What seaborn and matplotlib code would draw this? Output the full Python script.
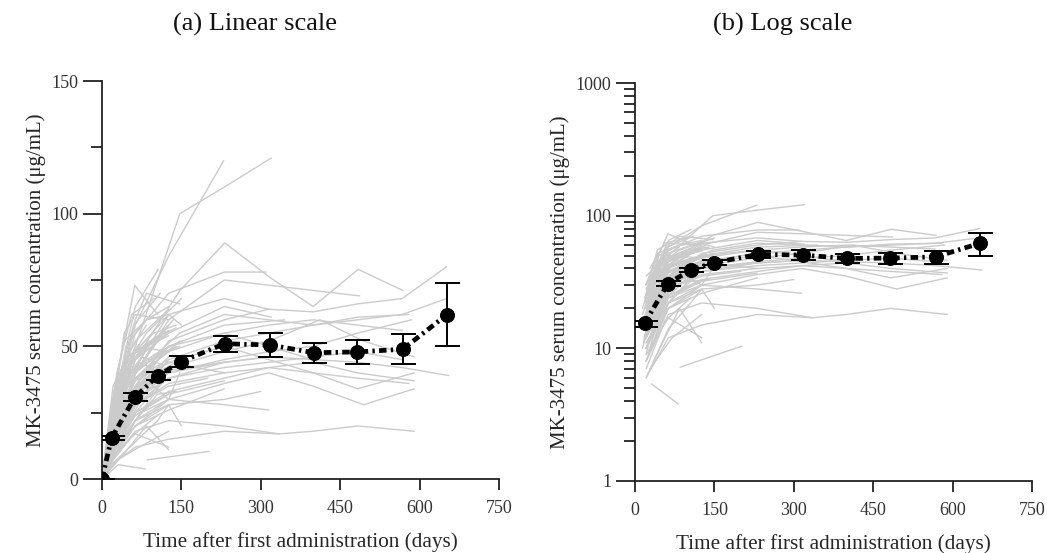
import numpy as np
import pandas as pd
import matplotlib
matplotlib.use("Agg")
import matplotlib.pyplot as plt
import matplotlib.ticker as mticker
import seaborn as sns

# ---------------- data ----------------
# individual subject profiles (days, concentration ug/mL)
subj_days = [
    [0, 21, 63, 147, 231, 320],
    [0, 21, 63, 126, 230],
    [0, 21, 63, 147, 232, 317, 399, 484, 569],
    [0, 21, 63, 126, 231, 317, 487],
    [0, 21, 63, 126, 231, 315, 399, 483, 567, 651],
    [0, 21, 63, 126, 231, 315, 399, 483, 567, 651],
    [0, 21, 63, 126, 231, 315, 399, 483, 567, 655],
    [0, 21, 63, 126, 231, 335, 399, 483, 590],
    [0, 21, 63, 147, 231, 315, 399, 483, 580],
    [0, 21, 63, 126, 231, 315, 399, 483, 585],
    [0, 21, 63, 126, 231, 315, 412, 494, 590],
    [0, 21, 63, 126, 231, 315, 399, 483, 590],
    [0, 21, 63, 126, 231, 315, 399, 494, 590],
    [0, 21, 63, 126, 231, 315, 399, 483, 590],
    [0, 21, 63, 126, 231, 315, 399, 483, 580],
    [0, 21, 63, 126, 231, 320],
    [0, 21, 63, 126, 231, 345],
    [0, 21, 63, 126, 231, 335],
    [0, 21, 63, 126, 231, 315],
    [0, 21, 63, 126, 231, 315, 399],
    [0, 21, 63, 126, 231, 315, 399, 483, 567],
    [0, 21, 63, 126, 231, 315],
    [0, 21, 63, 126, 231, 310],
    [0, 21, 63, 126, 231, 315, 399, 483, 567],
    [0, 20, 62, 105],
    [0, 22, 63, 106],
    [0, 21, 45, 84, 126],
    [0, 21, 42, 84, 150],
    [0, 21, 63, 126],
    [0, 20, 63, 126],
    [0, 28, 63, 105, 147],
    [0, 21, 63, 126],
    [0, 21, 42, 84, 126],
    [0, 14, 42, 84, 126],
    [0, 21, 63, 105],
    [0, 21, 63, 126, 147],
    [0, 31, 82],
    [85, 202],
    [0, 21, 63, 105, 126],
    [0, 28, 70, 126],
    [0, 21, 63, 126],
    [0, 21, 63, 105, 126],
    [0, 21, 42, 63, 126],
    [0, 21, 63, 126, 150],
    [0, 21, 63, 126],
    [0, 21, 63, 126, 200],
    [0, 21, 63, 126],
    [0, 21, 63, 126, 231],
    [0, 21, 63, 126],
    [0, 21, 63, 84, 147],
    [0, 35, 84, 126],
    [0, 21, 63, 126, 231],
    [0, 21, 63, 126, 231],
    [0, 21, 63, 126, 231],
    [0, 18, 42, 84, 126],
    [0, 24, 56, 105, 147],
    [0, 21, 49, 91, 140],
    [0, 25, 63, 112],
    [0, 14, 42, 84],
    [0, 28, 56, 98],
    [0, 21, 49, 77, 119],
    [0, 17, 45, 87, 129],
    [0, 24, 52, 94],
    [0, 21, 63, 126],
    [0, 26, 56, 112, 140],
    [0, 14, 35, 70, 105],
    [0, 21, 42, 70, 112],
    [0, 30, 60, 90, 130],
    [0, 18, 49, 98, 140],
    [0, 21, 56, 105],
    [0, 28, 63, 105, 140],
    [0, 21, 42, 84, 126],
    [0, 20, 50, 100, 150],
    [0, 35, 70, 112],
    [0, 21, 63, 91, 126],
    [0, 14, 42, 77, 119],
    [0, 24, 60, 110],
    [0, 21, 45, 75, 115],
    [0, 30, 63, 98],
    [0, 21, 63, 126, 150],
    [0, 16, 42, 70],
    [0, 28, 84, 140],
    [0, 21, 56, 98, 135],
    [0, 21, 63, 126, 231, 300],
    [0, 21, 63, 126, 231, 315],
]
subj_conc = [
    [0, 22, 50, 100, 110, 121],
    [0, 25, 58, 84, 120],
    [0, 18, 45, 71, 89, 76, 65, 79, 71],
    [0, 15, 40, 60, 75, 73, 69],
    [0, 14, 35, 52, 60, 64, 63, 66, 68, 80],
    [0, 12, 30, 45, 52, 55, 58, 60, 62, 68],
    [0, 10, 28, 38, 44, 46, 45, 44, 42, 39],
    [0, 6, 12, 15, 18, 17, 18, 20, 18],
    [0, 16, 40, 55, 62, 60, 58, 61, 62],
    [0, 12, 30, 40, 45, 48, 50, 55, 60],
    [0, 14, 32, 42, 48, 52, 60, 52, 46],
    [0, 10, 25, 33, 38, 42, 40, 34, 40],
    [0, 8, 22, 30, 36, 40, 35, 28, 34],
    [0, 12, 28, 36, 40, 42, 44, 40, 37],
    [0, 14, 35, 44, 50, 45, 40, 38, 36],
    [0, 20, 45, 55, 65, 61],
    [0, 18, 40, 50, 58, 60],
    [0, 8, 18, 22, 20, 17],
    [0, 10, 24, 30, 28, 26],
    [0, 16, 38, 48, 55, 50, 45],
    [0, 14, 30, 38, 42, 44, 46, 48, 45],
    [0, 20, 42, 62, 68, 64],
    [0, 24, 55, 70, 78, 78],
    [0, 16, 38, 50, 55, 58, 60, 58, 56],
    [0, 30, 73, 62],
    [0, 28, 65, 79],
    [0, 20, 50, 60, 65],
    [0, 18, 42, 55, 68],
    [0, 15, 40, 58],
    [0, 12, 35, 50],
    [0, 10, 30, 45, 52],
    [0, 22, 48, 56],
    [0, 25, 45, 50, 54],
    [0, 18, 38, 44, 48],
    [0, 10, 25, 35],
    [0, 8, 20, 30, 40],
    [0, 5.4, 3.8],
    [7.2, 10.4],
    [0, 6, 14, 22, 28],
    [0, 7, 12, 18],
    [0, 9, 17, 12],
    [0, 12, 30, 42, 46],
    [0, 26, 55, 62, 60],
    [0, 18, 48, 62, 58],
    [0, 20, 38, 45],
    [0, 15, 28, 35, 38],
    [0, 14, 24, 32],
    [0, 11, 20, 26, 34],
    [0, 35, 52, 64],
    [0, 30, 60, 70, 66],
    [0, 8, 20, 11],
    [0, 16, 33, 41, 44],
    [0, 12, 25, 32, 37],
    [0, 19, 37, 44, 40],
    [0, 22, 40, 50, 55],
    [0, 13, 33, 47, 50],
    [0, 17, 36, 52, 57],
    [0, 9, 22, 36],
    [0, 20, 45, 58],
    [0, 40, 62, 68],
    [0, 22, 42, 50, 56],
    [0, 12, 28, 40, 44],
    [0, 14, 32, 38],
    [0, 28, 50, 48],
    [0, 16, 36, 46, 50],
    [0, 15, 30, 42, 52],
    [0, 9, 20, 30, 38],
    [0, 18, 34, 38, 42],
    [0, 24, 46, 55, 58],
    [0, 7, 16, 24],
    [0, 12, 22, 32, 33],
    [0, 30, 52, 60, 62],
    [0, 20, 40, 47, 52],
    [0, 22, 44, 40],
    [0, 13, 26, 36, 30],
    [0, 10, 24, 34, 40],
    [0, 26, 58, 70],
    [0, 17, 38, 46, 43],
    [0, 34, 48, 52],
    [0, 10, 20, 28, 20],
    [0, 11, 30, 35],
    [0, 25, 38, 44],
    [0, 15, 44, 52, 60],
    [0, 11, 22, 28, 30, 33],
    [0, 15, 32, 40, 44, 46],
]

# mean profile with error bars
mean_days = [0, 18, 62, 105, 149, 232, 317, 400, 482, 568, 652]
mean_conc = [0, 15.4, 30.8, 38.8, 44.2, 51.0, 50.5, 47.6, 47.9, 48.9, 62.0]
mean_err = [0, 0.8, 1.5, 1.5, 2.0, 3.0, 4.4, 3.8, 4.5, 5.6, 12.0]

titles = ["(a) Linear scale", "(b) Log scale"]
xlabel = "Time after first administration (days)"
ylabel = "MK-3475 serum concentration (\u03bcg/mL)"
x_ticks = [0, 150, 300, 450, 600, 750]
lin_ticks = [0, 50, 100, 150]
log_ticks = [1, 10, 100, 1000]

# ---------------- build frame ----------------
rows = []
for i, (d, c) in enumerate(zip(subj_days, subj_conc)):
    for dd, cc in zip(d, c):
        rows.append((i, dd, cc))
df = pd.DataFrame(rows, columns=["subject", "day", "conc"])

sns.set_theme(style="ticks")
plt.rcParams["font.family"] = ["Liberation Serif", "DejaVu Serif"]

fig = plt.figure(figsize=(10.47, 5.53), dpi=100)
ax1 = fig.add_axes([0.0974, 0.1338, 0.3792, 0.7197])
ax2 = fig.add_axes([0.6065, 0.1302, 0.3792, 0.7197])

grey = "#cbcbcb"
mean_style = dict(color="black", lw=3.4, linestyle=(0, (1.6, 0.9, 0.5, 0.9)))

for ax, logscale in [(ax1, False), (ax2, True)]:
    data = df[df.conc > 0] if logscale else df
    sns.lineplot(data=data, x="day", y="conc", units="subject", estimator=None,
                 color=grey, lw=1.0, ax=ax, legend=False)
    md = mean_days[1:] if logscale else mean_days
    mc = mean_conc[1:] if logscale else mean_conc
    me = mean_err[1:] if logscale else mean_err
    sns.lineplot(x=md, y=mc, ax=ax, marker="o", markersize=10,
                 markeredgecolor="black", markerfacecolor="black", zorder=5,
                 **mean_style)
    ax.errorbar(md, mc, yerr=me, fmt="none", ecolor="black", elinewidth=1.4,
                capsize=9, capthick=1.4, zorder=6)

    ax.set_xlim(0, 750)
    ax.set_xticks(x_ticks)
    ax.set_xlabel(xlabel, fontsize=15.3, labelpad=11)
    ax.set_ylabel(ylabel, fontsize=15, labelpad=4)
    if logscale:
        ax.set_yscale("log")
        ax.set_ylim(1, 1000)
        ax.set_yticks(log_ticks)
        ax.yaxis.set_major_formatter(mticker.FuncFormatter(lambda v, p: "%g" % v))
        ax.yaxis.set_minor_locator(mticker.LogLocator(base=10, subs=np.arange(2, 10)))
        ax.yaxis.set_minor_formatter(mticker.NullFormatter())
    else:
        ax.set_ylim(0, 150)
        ax.set_yticks(lin_ticks)
        ax.yaxis.set_minor_locator(mticker.FixedLocator([25, 75, 125]))
    for s in ["top", "right"]:
        ax.spines[s].set_visible(False)
    for s in ["left", "bottom"]:
        ax.spines[s].set_linewidth(1.3)
        ax.spines[s].set_color("#222222")
    ax.tick_params(axis="y", which="major", length=14, width=1.3, color="#222222",
                   labelsize=13, labelcolor="#333333", pad=3)
    ax.tick_params(axis="y", which="minor", length=8, width=1.3, color="#222222")
    ax.tick_params(axis="x", which="major", length=8, width=1.3, color="#222222",
                   labelsize=13, labelcolor="#333333", pad=7)
    ax.set_facecolor("white")

fig.text(0.2436, 0.955, titles[0], ha="center", va="center", fontsize=19, color="#111111")
fig.text(0.748, 0.955, titles[1], ha="center", va="center", fontsize=19, color="#111111")

fig.savefig("out.png", dpi=100, facecolor="white")
